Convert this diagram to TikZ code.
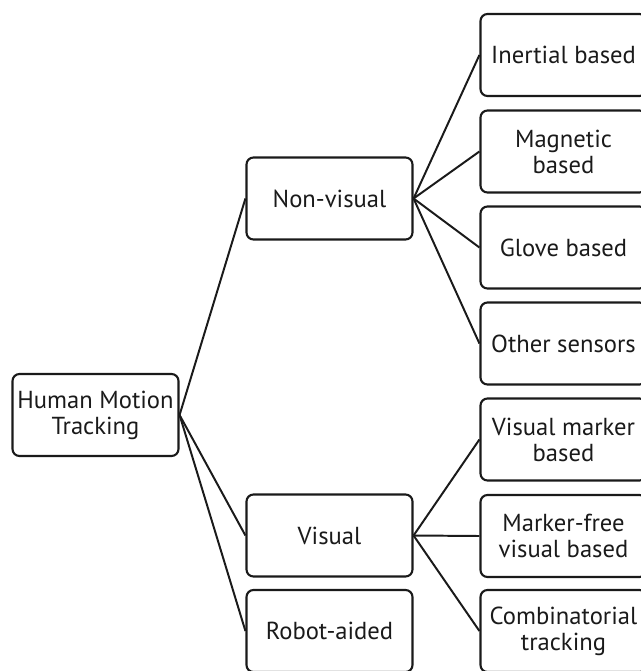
\documentclass[tikz,border=0pt]{standalone}
\usepackage{fontspec}
\setmainfont{PT Sans}
\usepackage{tikz}
\usetikzlibrary{positioning}
\definecolor{ink}{HTML}{1A1A1A}

\begin{document}
\begin{tikzpicture}[x=0.025cm, y=-0.025cm,
    box/.style={draw=ink, line width=1.5pt, rounded corners=5pt, align=center,
      minimum width=4.15cm, minimum height=2.05cm, inner sep=2pt,
      font=\fontsize{17.5}{18.5}\selectfont, text=ink},
    link/.style={draw=ink, line width=1.4pt}]
    \useasboundingbox (0,0) rectangle (640,671);
    % root and first level
    \node[box] (hmt) at (95.5,415) {Human Motion\\Tracking};
    \node[box] (nonvis) at (329.5,198.5) {Non-visual};
    \node[box] (vis) at (329.5,535.5) {Visual};
    \node[box] (robot) at (329.5,631) {Robot-aided};
    \foreach \c in {nonvis, vis, robot}{
      \draw[link] (hmt.east) -- (\c.west);
    }
    % second level, non-visual sensors
    \foreach \y/\nm/\txt in {55/inert/Inertial based, 151.5/magn/Magnetic\\based,
        247.5/glove/Glove based, 343.5/other/Other sensors}{
      \node[box] (\nm) at (563.5,\y) {\txt};
      \draw[link] (nonvis.east) -- (\nm.west);
    }
    % second level, visual tracking
    \foreach \y/\nm/\txt in {439.5/marker/Visual marker\\based, 536/mfree/Marker-free\\visual based,
        631/combi/Combinatorial\\tracking}{
      \node[box] (\nm) at (563.5,\y) {\txt};
      \draw[link] (vis.east) -- (\nm.west);
    }
  \end{tikzpicture}
\end{document}
